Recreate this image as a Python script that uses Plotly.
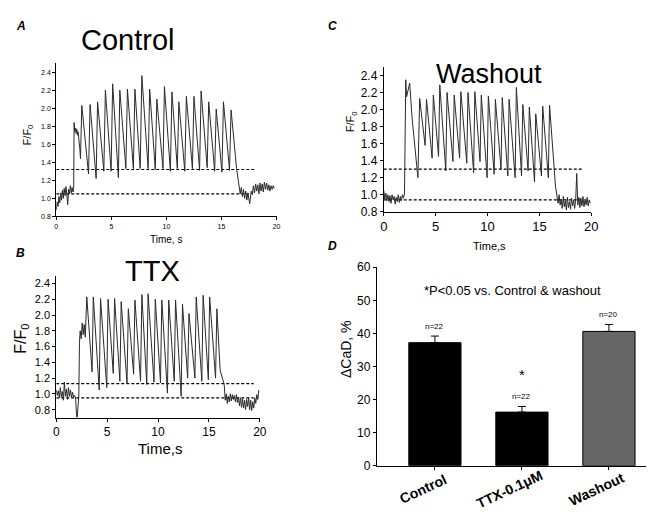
import plotly.graph_objects as go

FONT = "Liberation Sans, Arial, sans-serif"
W, H = 666, 515

# ---- Panel A (Control) ----
a_pre_t = [0.0, 0.08, 0.16, 0.24, 0.32, 0.40, 0.48, 0.56, 0.64, 0.72, 0.80, 0.88, 0.96, 1.04, 1.12,
           1.20, 1.28, 1.36, 1.44, 1.52, 1.58, 1.62, 1.68, 1.74, 1.80, 1.86, 1.92, 1.98, 2.06, 2.14, 2.20]
a_pre_f = [0.87, 0.96, 0.91, 1.02, 0.95, 1.06, 0.98, 1.09, 1.00, 1.11, 1.03, 1.13, 1.04, 0.93, 1.10,
           1.05, 1.14, 1.06, 1.12, 1.07, 1.10, 1.84, 1.74, 1.78, 1.72, 1.77, 1.70, 1.74, 1.66, 1.55, 1.44]
a_peak_t = [2.32, 3.07, 3.75, 4.46, 5.12, 5.77, 6.46, 7.14, 7.77, 8.48, 9.13, 9.82, 10.50, 11.13,
            11.81, 12.50, 13.15, 13.84, 14.52, 15.18, 15.87]
a_peak_f = [2.03, 2.04, 2.07, 2.20, 2.27, 2.20, 2.21, 2.21, 2.36, 2.21, 2.10, 2.24, 2.18, 2.07,
            2.13, 2.13, 2.19, 2.07, 1.99, 2.07, 1.98]
a_trough_t = [2.93, 3.62, 4.32, 4.98, 5.64, 6.32, 7.00, 7.62, 8.34, 8.99, 9.69, 10.36, 10.99, 11.67,
              12.36, 13.01, 13.70, 14.38, 15.04, 15.73]
a_trough_f = [1.27, 1.22, 1.30, 1.30, 1.23, 1.33, 1.33, 1.33, 1.33, 1.32, 1.33, 1.30, 1.33, 1.30,
              1.33, 1.31, 1.34, 1.30, 1.29, 1.31]
a_post_t = [16.37, 16.50, 16.60, 16.70, 16.80, 16.90, 17.00, 17.10, 17.20, 17.30, 17.40, 17.56, 17.70,
            17.80, 17.90, 18.00, 18.10, 18.20, 18.30, 18.40, 18.50, 18.60, 18.70, 18.80, 18.90, 19.00,
            19.10, 19.20, 19.30, 19.40, 19.50, 19.60, 19.70, 19.80]
a_post_f = [1.33, 1.20, 1.10, 1.05, 1.12, 1.02, 1.10, 1.00, 1.08, 0.98, 1.06, 0.94, 1.08,
            1.04, 1.14, 1.06, 1.16, 1.08, 1.15, 1.05, 1.17, 1.08, 1.16, 1.07, 1.18, 1.10,
            1.17, 1.09, 1.15, 1.08, 1.14, 1.10, 1.14, 1.11]
a_dash_level = [1.32, 1.05]
a_dash_end = [18.0, 17.5]

# ---- Panel B (TTX) ----
b_pre_t = [0.0, 0.1, 0.2, 0.3, 0.4, 0.5, 0.6, 0.7, 0.8, 0.9, 1.0, 1.1, 1.2, 1.3, 1.4, 1.5, 1.6, 1.7,
           1.8, 1.9, 2.0, 2.05, 2.15, 2.22, 2.28, 2.35, 2.45, 2.55, 2.65, 2.75, 2.85]
b_pre_f = [1.05, 0.98, 1.04, 0.95, 1.08, 0.96, 1.03, 0.92, 1.15, 0.97, 1.06, 0.93, 1.08, 0.97, 1.05,
           0.95, 1.02, 0.96, 0.98, 0.95, 0.72, 0.70, 0.85, 1.00, 1.65, 1.80, 1.70, 1.90, 1.75, 1.88, 1.72]
b_peak_t = [3.00, 3.64, 4.35, 5.09, 5.73, 6.38, 7.08, 7.73, 8.41, 9.02, 9.73, 10.37, 11.05, 11.72,
            12.40, 13.04, 13.75, 14.43, 15.07, 15.78]
b_peak_f = [2.23, 2.23, 2.21, 2.20, 2.21, 2.17, 2.08, 2.19, 2.26, 2.27, 2.20, 2.19, 2.19, 2.19,
            2.14, 2.02, 2.23, 2.25, 2.23, 2.08]
b_trough_t = [3.52, 4.22, 4.96, 5.60, 6.25, 6.95, 7.60, 8.28, 8.89, 9.60, 10.24, 10.92, 11.59, 12.27,
              12.91, 13.62, 14.30, 14.94, 15.65]
b_trough_f = [1.28, 1.05, 1.08, 1.26, 1.16, 1.13, 1.25, 1.16, 1.12, 1.15, 1.14, 1.01, 1.16, 0.97,
              1.20, 1.20, 1.16, 1.18, 1.20]
b_post_t = [16.10, 16.50, 16.60, 16.70, 16.80, 16.90, 17.00, 17.10, 17.20, 17.30, 17.40, 17.50, 17.60,
            17.70, 17.80, 17.90, 18.00, 18.10, 18.20, 18.30, 18.40, 18.50, 18.60, 18.70, 18.80, 18.90,
            19.00, 19.10, 19.20, 19.30, 19.40, 19.50, 19.60, 19.70, 19.80, 19.90]
b_post_f = [1.30, 1.12, 0.92, 1.00, 0.88, 0.97, 0.90, 1.00, 0.91, 0.99, 0.93, 0.98, 0.90,
            0.99, 0.89, 0.96, 0.85, 0.95, 0.83, 0.94, 0.82, 0.92, 0.80, 0.93, 0.84, 0.95,
            0.80, 0.92, 0.79, 0.90, 0.82, 0.95, 0.88, 0.99, 0.93, 1.05]
b_dash_level = [1.13, 0.95]
b_dash_end = [19.4, 19.4]

# ---- Panel C (Washout) ----
c_pre_t = [0.0, 0.1, 0.2, 0.3, 0.4, 0.5, 0.6, 0.7, 0.8, 0.9, 1.0, 1.1, 1.2, 1.3, 1.4, 1.5, 1.6, 1.7,
           1.8, 1.9, 2.0, 2.05, 2.12, 2.20, 2.35, 2.50, 2.73, 3.03, 3.29]
c_pre_f = [1.05, 0.95, 1.02, 0.93, 1.00, 0.92, 0.99, 0.90, 1.00, 0.94, 0.98, 0.89, 0.97, 0.92, 1.00,
           0.91, 0.98, 0.93, 1.00, 0.96, 1.02, 2.05, 2.35, 2.15, 2.25, 2.31, 1.90, 1.55, 1.20]
c_peak_t = [3.46, 4.12, 4.78, 5.40, 6.10, 6.79, 7.43, 8.12, 8.78, 9.40, 10.08, 10.76, 11.42, 12.08,
            12.78, 13.40, 14.03, 14.65, 15.32, 15.98]
c_peak_f = [2.13, 2.12, 2.17, 2.29, 2.20, 2.17, 2.21, 2.20, 2.21, 2.17, 2.16, 2.12, 2.14, 2.12,
            2.26, 2.06, 2.03, 1.95, 2.04, 2.05]
c_trough_t = [3.98, 4.66, 5.28, 5.98, 6.67, 7.31, 8.00, 8.66, 9.28, 9.96, 10.64, 11.30, 11.96, 12.66,
              13.28, 13.91, 14.53, 15.20, 15.86]
c_trough_f = [1.58, 1.43, 1.45, 1.28, 1.39, 1.43, 1.37, 1.26, 1.39, 1.20, 1.24, 1.30, 1.22, 1.20,
              1.22, 1.28, 1.15, 1.22, 1.20]
c_post_t = [16.30, 16.55, 16.70, 16.80, 16.90, 17.00, 17.10, 17.20, 17.30, 17.40, 17.50, 17.60, 17.70,
            17.80, 17.90, 18.00, 18.10, 18.20, 18.30, 18.40, 18.50, 18.60, 18.70, 18.80, 18.90, 19.00,
            19.10, 19.20, 19.30, 19.40, 19.50, 19.60, 19.70, 19.80, 19.90]
c_post_f = [1.55, 1.10, 0.98, 0.90, 1.00, 0.88, 0.95, 0.84, 0.98, 0.86, 0.93, 0.82, 0.97,
            0.85, 0.92, 0.83, 0.96, 0.87, 0.94, 0.84, 0.95, 1.25, 0.88, 0.97, 0.85, 0.96,
            0.87, 0.98, 0.86, 0.95, 0.88, 0.97, 0.87, 0.94, 0.90]
c_dash_level = [1.30, 0.94]
c_dash_end = [19.1, 19.0]

# ---- Panel D (bars) ----
groups = ["Control", "TTX-0.1μM", "Washout"]
delta_cad = [37.2, 16.2, 40.6]
delta_err = [2.0, 1.7, 2.1]
n_labels = ["n=22", "n=22", "n=20"]
n_label_y = [42.1, 20.8, 45.6]
bar_colors = ["#000000", "#000000", "#666666"]


def build_trace(pre_t, pre_f, peak_t, peak_f, trough_t, trough_f, post_t, post_f):
    t, f = list(pre_t), list(pre_f)
    for i in range(len(peak_t)):
        t.append(peak_t[i])
        f.append(peak_f[i])
        if i < len(trough_t):
            t.append(trough_t[i])
            f.append(trough_f[i])
    return t + list(post_t), f + list(post_f)


fig = go.Figure()

panels = [
    ("x", "y", (a_pre_t, a_pre_f, a_peak_t, a_peak_f, a_trough_t, a_trough_f, a_post_t, a_post_f),
     a_dash_level, a_dash_end),
    ("x2", "y2", (b_pre_t, b_pre_f, b_peak_t, b_peak_f, b_trough_t, b_trough_f, b_post_t, b_post_f),
     b_dash_level, b_dash_end),
    ("x3", "y3", (c_pre_t, c_pre_f, c_peak_t, c_peak_f, c_trough_t, c_trough_f, c_post_t, c_post_f),
     c_dash_level, c_dash_end),
]
for xa, ya, parts, levels, ends in panels:
    for lv, end in zip(levels, ends):
        fig.add_trace(go.Scatter(x=[0, end], y=[lv, lv], mode="lines", xaxis=xa, yaxis=ya,
                                 line=dict(color="black", width=1.2, dash="3px,2px"),
                                 showlegend=False, hoverinfo="skip"))
    tt, ff = build_trace(*parts)
    fig.add_trace(go.Scatter(x=tt, y=ff, mode="lines", xaxis=xa, yaxis=ya,
                             line=dict(color="#2a2a2a", width=1), showlegend=False))

fig.add_trace(go.Bar(
    x=groups, y=delta_cad, xaxis="x4", yaxis="y4", width=0.6,
    marker=dict(color=bar_colors, line=dict(color="black", width=1)),
    error_y=dict(type="data", symmetric=False, array=delta_err, arrayminus=[0, 0, 0],
                 color="black", thickness=1, width=4),
    showlegend=False,
))


def dom_x(p0, p1):
    return [p0 / W, p1 / W]


def dom_y(top, bottom):
    return [1 - bottom / H, 1 - top / H]


ax_common = dict(showline=True, linecolor="black", linewidth=1, ticks="outside", ticklen=3,
                 tickcolor="black", showgrid=False, zeroline=False, fixedrange=True)

fig.update_layout(
    width=W, height=H, margin=dict(l=0, r=0, t=0, b=0),
    paper_bgcolor="white", plot_bgcolor="white",
    font=dict(family=FONT, color="black"),
    bargap=0.4,
    xaxis=dict(domain=dom_x(45, 269), range=[0, 20], anchor="y", tickvals=[0, 5, 10, 15, 20],
               tickfont=dict(size=7), **ax_common),
    yaxis=dict(domain=dom_y(49.4, 207), range=[0.8, 2.5], anchor="x", tick0=0.8, dtick=0.2,
               tickformat=".1f", tickfont=dict(size=7), **ax_common),
    xaxis2=dict(domain=dom_x(45, 252), range=[0, 20], anchor="y2", tickvals=[0, 5, 10, 15, 20],
                tickfont=dict(size=12), **ax_common),
    yaxis2=dict(domain=dom_y(267.9, 413.8), range=[0.7, 2.5], anchor="x2", tick0=0.8, dtick=0.2,
                tickformat=".1f", tickfont=dict(size=11), **ax_common),
    xaxis3=dict(domain=dom_x(378, 589), range=[0, 20], anchor="y3", tickvals=[0, 5, 10, 15, 20],
                tickfont=dict(size=13), **ax_common),
    yaxis3=dict(domain=dom_y(53.4, 202.3), range=[0.8, 2.5], anchor="x3", tick0=0.8, dtick=0.2,
                tickformat=".1f", tickfont=dict(size=12), **ax_common),
    xaxis4=dict(domain=dom_x(371, 645), range=[-0.667, 2.43], anchor="y4", type="category",
                showticklabels=False, **ax_common),
    yaxis4=dict(domain=dom_y(259.3, 463.3), range=[0, 60], anchor="x4", dtick=10,
                tickfont=dict(size=12), **ax_common),
)

ann = []


def paper_text(text, px, py, size, angle=0, bold=False, italic=False):
    if bold:
        text = "<b>" + text + "</b>"
    if italic:
        text = "<i>" + text + "</i>"
    ann.append(dict(text=text, x=px / W, y=1 - py / H, xref="paper", yref="paper",
                    xanchor="center", yanchor="middle", showarrow=False, textangle=angle,
                    font=dict(size=size, family=FONT, color="black")))


# panel letters
paper_text("A", 9, 11, 12, bold=True, italic=True)
paper_text("B", 9, 245, 12, bold=True, italic=True)
paper_text("C", 326, 11, 12, bold=True, italic=True)
paper_text("D", 326, 237, 12, bold=True, italic=True)

# panel titles
paper_text("Control", 118, 26, 29)
paper_text("TTX", 143, 263, 29)
paper_text("Washout", 485, 61, 27)

# axis titles
paper_text("F/F<sub>0</sub>", 16, 123, 11, angle=-90)
paper_text("Time, s", 157, 231, 10)
paper_text("F/F<sub>0</sub>", 10, 333, 16, angle=-90)
paper_text("Time,s", 150, 446, 15)
paper_text("F/F<sub>0</sub>", 345, 110, 11, angle=-90)
paper_text("Time,s", 486, 237, 11)
paper_text("ΔCaD, %", 339, 343, 14, angle=-90)

# statistics note
paper_text("*P<0.05 vs. Control & washout", 509, 283, 13)

# bar category labels (rotated)
for g in groups:
    ann.append(dict(text="<b>" + g + "</b>", x=g, y=1 - 487 / H, xref="x4", yref="paper",
                    xshift=-12, xanchor="center", yanchor="middle", showarrow=False,
                    textangle=-25, font=dict(size=14, family=FONT, color="black")))

# n labels above bars
for g, lab, ny in zip(groups, n_labels, n_label_y):
    ann.append(dict(text=lab, x=g, y=ny, xref="x4", yref="y4", showarrow=False,
                    xanchor="center", yanchor="middle", font=dict(size=8, family=FONT)))
ann.append(dict(text="*", x=groups[1], y=27.6, xref="x4", yref="y4", showarrow=False,
                xanchor="center", yanchor="middle", font=dict(size=15, family=FONT)))

fig.update_layout(annotations=ann)

fig.write_html("out.html")
